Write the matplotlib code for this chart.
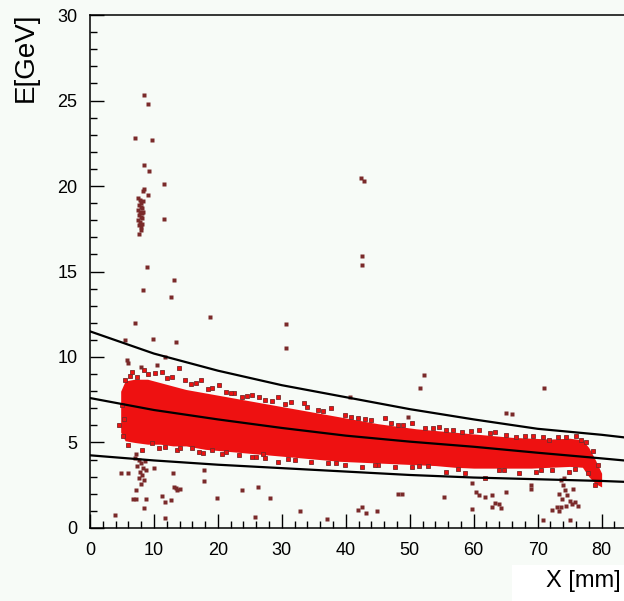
import matplotlib
matplotlib.use("Agg")
import matplotlib.pyplot as plt
from matplotlib.ticker import MultipleLocator
from matplotlib.patches import Rectangle

plt.rcParams["font.family"] = ["Liberation Sans", "DejaVu Sans"]

# ---- data ----
# dense core of the scatter band (edges of the solid red region)
band_x = [4.8, 5.5, 7, 9, 11, 13, 15, 18, 21, 24, 27, 30, 33, 36, 39, 42,
          45, 48, 51, 54, 57, 60, 63, 66, 69, 72, 75, 77, 78, 79, 80]
band_top = [8.0, 8.6, 8.7, 8.7, 8.5, 8.3, 8.1, 7.9, 7.7, 7.5, 7.3, 7.1, 6.9,
            6.7, 6.5, 6.3, 6.1, 5.95, 5.8, 5.7, 5.6, 5.5, 5.4, 5.3, 5.25,
            5.2, 5.25, 5.15, 4.7, 4.0, 3.2]
band_bot = [5.6, 5.1, 5.0, 4.9, 4.9, 4.8, 4.8, 4.6, 4.5, 4.4, 4.3, 4.2, 4.1,
            4.0, 3.9, 3.85, 3.8, 3.75, 3.7, 3.65, 3.55, 3.5, 3.5, 3.5, 3.5,
            3.55, 3.6, 3.55, 3.0, 2.6, 2.4]

# speckled fringe along the band edges
fringe_x = [5.5, 6.6, 7.3, 8.4, 10.2, 11.3, 12.8, 13.9, 14.9, 16.5, 17.3, 19.1,
            20.2, 21.2, 22.5, 23.8, 25.4, 26.5, 27.3, 29.4, 31.4, 33.5, 35.6,
            37.7, 39.8, 41.9, 44.0, 46.1, 48.2, 50.3, 52.4, 54.5, 55.6, 58.2,
            60.8, 63.4, 66.6, 69.2, 71.8, 74.4, 76.8,
            6.0, 8.1, 9.7, 11.8, 13.6, 16.0, 17.6, 19.1, 21.2, 23.3, 25.4, 27.0,
            27.3, 29.4, 32.0, 34.6, 37.2, 39.8, 42.5, 45.1, 47.7, 50.3, 52.9,
            55.6, 58.7, 61.8, 63.9, 67.1, 69.7, 72.3, 74.9,
            5.0, 5.3, 4.6, 5.1, 6.2, 9.0, 12.0, 15.8, 18.4, 22.0, 24.6, 28.4,
            30.5, 34.0, 36.5, 40.8, 43.0, 47.0, 49.0, 53.6, 56.8, 59.5, 62.5,
            65.0, 68.0, 70.8, 73.2, 76.0, 77.6, 78.6, 79.4,
            10.8, 14.0, 17.0, 20.6, 26.0, 31.0, 38.5, 44.5, 51.5, 57.5, 64.8,
            70.5, 75.8, 77.8, 79.0]
fringe_e = [8.65, 9.14, 8.85, 9.24, 9.05, 9.14, 8.85, 9.34, 8.65, 8.46, 8.65,
            8.17, 8.36, 7.97, 7.88, 7.68, 7.78, 7.68, 7.49, 7.68, 7.39, 7.29,
            6.9, 7.0, 6.61, 6.41, 6.32, 6.41, 6.02, 6.12, 5.83, 5.92, 5.73,
            5.63, 5.73, 5.63, 5.34, 5.38, 5.15, 5.34, 5.15,
            4.85, 4.56, 4.95, 4.75, 4.56, 4.66, 4.37, 4.56, 4.46, 4.27, 4.17,
            4.33, 4.08, 3.88, 3.98, 3.88, 3.78, 3.68, 3.58, 3.68, 3.58, 3.55,
            3.63, 3.29, 3.2, 2.9, 3.39, 3.2, 3.29, 3.39, 3.29,
            7.2, 6.4, 6.0, 5.4, 8.9, 9.0, 8.8, 8.4, 8.1, 7.9, 7.7, 7.45,
            7.25, 7.05, 6.85, 6.5, 6.4, 6.15, 6.0, 5.85, 5.75, 5.65, 5.55,
            5.45, 5.4, 5.3, 5.35, 5.4, 5.0, 4.5, 3.7,
            4.7, 4.65, 4.45, 4.35, 4.15, 4.05, 3.8, 3.7, 3.6, 3.45, 3.4,
            3.4, 3.45, 3.2, 2.5]

# isolated points (outliers, clusters at x~8 and x~74)
pts_x = [8.5, 9.1, 7.1, 9.7, 8.5, 9.2, 11.6, 8.5, 8.3, 9.0, 7.6, 11.6, 8.9,
         13.1, 8.3, 12.6, 7.0, 9.9, 13.5, 5.5, 18.8, 30.6, 30.7, 5.8, 6.0,
         7.9, 10.5, 11.8, 40.6, 49.8, 42.3, 42.8, 42.5, 42.5, 52.3, 51.6,
         71.0, 65.1, 66.0,
         7.5, 7.8, 8.0, 7.6, 7.9, 8.2, 7.5, 7.8, 8.1, 7.6, 7.9, 8.2, 7.5,
         7.8, 8.1, 7.7, 8.0, 7.9, 8.3, 8.3,
         7.2, 7.6, 8.0, 7.4, 8.3, 7.8, 8.1, 7.6, 8.4, 7.9, 7.0, 8.6, 8.8,
         7.2, 6.7, 7.2, 8.5, 8.8, 3.9, 4.8, 5.9, 10.0, 13.0, 13.2, 13.6,
         14.0, 13.4, 11.3, 11.7, 12.6, 11.7, 17.9, 17.8, 19.8, 23.7, 26.2,
         28.1, 25.8, 32.8, 37.1, 41.9, 42.5, 43.2, 44.9, 48.2, 48.8, 55.4,
         59.7, 60.3, 60.9, 61.8, 62.9, 63.3, 62.9, 63.9, 65.0, 64.2, 59.7,
         69.0, 69.0, 70.8, 72.3, 73.4, 75.0,
         73.6, 73.9, 74.3, 73.4, 73.8, 74.6, 75.0, 75.3, 75.9, 73.7, 74.5,
         73.1, 74.1, 76.3, 75.6]
pts_e = [25.3, 24.8, 22.8, 22.7, 21.2, 20.9, 20.1, 19.8, 19.7, 19.5, 17.2,
         18.05, 15.25, 14.5, 13.9, 13.5, 11.97, 11.03, 10.9, 11.0, 12.36,
         11.93, 10.5, 9.82, 9.67, 9.4, 9.53, 9.98, 7.68, 6.5, 20.45, 20.3,
         15.9, 15.4, 8.95, 8.17, 8.17, 6.74, 6.67,
         19.3, 19.2, 19.0, 18.9, 18.8, 18.7, 18.6, 18.5, 18.4, 18.3, 18.2,
         18.1, 18.0, 17.9, 17.8, 17.7, 17.6, 17.4, 19.1, 18.5,
         4.3, 4.0, 3.8, 3.6, 3.5, 3.3, 3.1, 2.9, 2.8, 2.6, 4.1, 3.9, 3.4,
         2.2, 1.7, 1.7, 1.15, 1.7, 0.76, 3.2, 3.23, 3.5, 3.2, 2.4, 2.2,
         2.3, 2.35, 1.87, 1.54, 1.64, 0.6, 3.4, 2.77, 1.74, 2.22, 2.42,
         1.74, 0.66, 1.0, 0.5, 1.05, 1.25, 0.9, 1.0, 2.0, 2.0, 1.8,
         2.65, 2.12, 1.93, 1.83, 1.93, 1.48, 1.25, 1.4, 2.12, 1.15, 1.09,
         2.5, 2.26, 0.47, 1.05, 1.0, 0.47,
         2.8, 2.5, 2.2, 2.0, 1.7, 1.9, 1.6, 1.4, 1.5, 1.2, 1.3,
         1.2, 2.9, 1.3, 2.3]

# three black curves
curve_x = [0, 10, 20, 30, 40, 50, 60, 70, 80, 83.5]
curve_hi = [11.5, 10.2, 9.2, 8.35, 7.65, 6.95, 6.35, 5.8, 5.45, 5.3]
curve_mid = [7.6, 6.9, 6.35, 5.85, 5.4, 5.05, 4.75, 4.4, 4.07, 3.95]
curve_lo = [4.25, 3.95, 3.7, 3.5, 3.3, 3.1, 2.95, 2.85, 2.75, 2.7]

BG = "#f7fbf7"
RED = "#ee1111"
DOT = "#7a2a2a"

fig = plt.figure(figsize=(6.24, 6.01), dpi=100, facecolor=BG)
ax = fig.add_axes([0.1442, 0.1215, 0.8558, 0.8535], facecolor=BG)

ax.fill_between(band_x, band_bot, band_top, color=RED, lw=0, zorder=2)
ax.plot(fringe_x, fringe_e, "s", ms=3.0, color=RED, mec=DOT, mew=0.6, zorder=3)
ax.plot(pts_x, pts_e, "s", ms=2.2, color=DOT, mec="none", zorder=3)

for ys in (curve_hi, curve_mid, curve_lo):
    ax.plot(curve_x, ys, color="black", lw=1.6, zorder=4)

ax.set_xlim(0, 83.5)
ax.set_ylim(0, 30)
ax.spines["right"].set_visible(False)
for s in ("top", "left", "bottom"):
    ax.spines[s].set_linewidth(1.1)

ax.xaxis.set_major_locator(MultipleLocator(10))
ax.xaxis.set_minor_locator(MultipleLocator(2))
ax.yaxis.set_major_locator(MultipleLocator(5))
ax.yaxis.set_minor_locator(MultipleLocator(1))
ax.tick_params(which="both", direction="in", top=False, right=False,
               width=1.0, labelsize=13, colors="black")
ax.tick_params(which="major", length=10)
ax.tick_params(which="minor", length=5)
ax.tick_params(axis="y", pad=9)
ax.tick_params(axis="x", pad=10)

# white patch behind the x title, as in the scan
fig.patches.append(Rectangle((0.82, 0.0), 0.18, 0.06, transform=fig.transFigure,
                             facecolor="white", edgecolor="none", zorder=0))
fig.text(0.934, 0.034, "X [mm]", fontsize=17, ha="center", va="center")
fig.text(0.042, 0.905, "E[GeV]", fontsize=20, rotation=90,
         ha="center", va="center")

fig.savefig("out.png", dpi=100, facecolor=BG)
